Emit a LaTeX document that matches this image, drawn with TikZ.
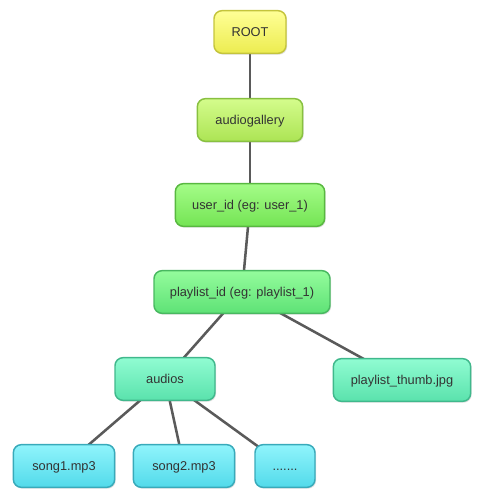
\documentclass[tikz,border=0pt]{standalone}
\usepackage{fontspec}
\setmainfont{Liberation Sans}
\usetikzlibrary{shadows,backgrounds}

\definecolor{rootline}{HTML}{C4C43C}
\definecolor{galline}{HTML}{88C040}
\definecolor{userline}{HTML}{58B840}
\definecolor{listline}{HTML}{48B860}
\definecolor{tealline}{HTML}{40B88C}
\definecolor{songline}{HTML}{38AABA}
\definecolor{edgegray}{HTML}{5A5A5A}

\tikzset{
  box/.style={rounded corners=6pt, line width=1.1pt, minimum height=32pt,
    inner sep=2pt, text height=8pt, text depth=1pt,
    font=\fontsize{9.6}{11}\selectfont, text=black!80,
    drop shadow={opacity=0.25, shadow xshift=0.8pt, shadow yshift=-1pt}},
  rootbox/.style={box, draw=rootline, top color={rgb,255:red,255;green,255;blue,150}, bottom color={rgb,255:red,236;green,236;blue,80}},
  galbox/.style={box, draw=galline, top color={rgb,255:red,212;green,252;blue,140}, bottom color={rgb,255:red,172;green,228;blue,84}},
  userbox/.style={box, draw=userline, top color={rgb,255:red,164;green,252;blue,136}, bottom color={rgb,255:red,116;green,228;blue,84}},
  listbox/.style={box, draw=listline, top color={rgb,255:red,148;green,252;blue,156}, bottom color={rgb,255:red,94;green,226;blue,118}},
  tealbox/.style={box, draw=tealline, top color={rgb,255:red,144;green,252;blue,210}, bottom color={rgb,255:red,90;green,226;blue,172}},
  songbox/.style={box, draw=songline, top color={rgb,255:red,144;green,244;blue,252}, bottom color={rgb,255:red,82;green,218;blue,234}},
  link/.style={draw=edgegray, line width=1.9pt}
}

\begin{document}
\begin{tikzpicture}[x=0.75pt, y=-0.75pt]
    \useasboundingbox (0,0) rectangle (481,498);

    % tree nodes
    \node[rootbox, minimum width=54pt] (root) at (250,32) {ROOT};
    \node[galbox, minimum width=79pt] (gallery) at (250,120) {audiogallery};
    \node[userbox, minimum width=112pt] (user) at (250,205) {user\_id (eg: user\_1)};
    \node[listbox, minimum width=132pt] (playlist) at (242,292) {playlist\_id (eg: playlist\_1)};
    \node[tealbox, minimum width=75pt] (audios) at (165,379) {audios};
    \node[tealbox, minimum width=103pt] (thumb) at (402,380) {playlist\_thumb.jpg};
    \node[songbox, minimum width=76pt] (song1) at (64,466) {song1.mp3};
    \node[songbox, minimum width=76pt] (song2) at (184,466) {song2.mp3};
    \node[songbox, minimum width=45pt] (more) at (285,466) {.......};

    % links behind the boxes
    \begin{scope}[on background layer]
        \draw[link] (root.center) -- (gallery.center);
        \draw[link] (gallery.center) -- (user.center);
        \draw[link] (user.center) -- (playlist.center);
        \draw[link] (playlist.center) -- (audios.center);
        \draw[link] (playlist.center) -- (thumb.center);
        \draw[link] (audios.center) -- (song1.center);
        \draw[link] (audios.center) -- (song2.center);
        \draw[link] (audios.center) -- (more.center);
    \end{scope}
\end{tikzpicture}
\end{document}
